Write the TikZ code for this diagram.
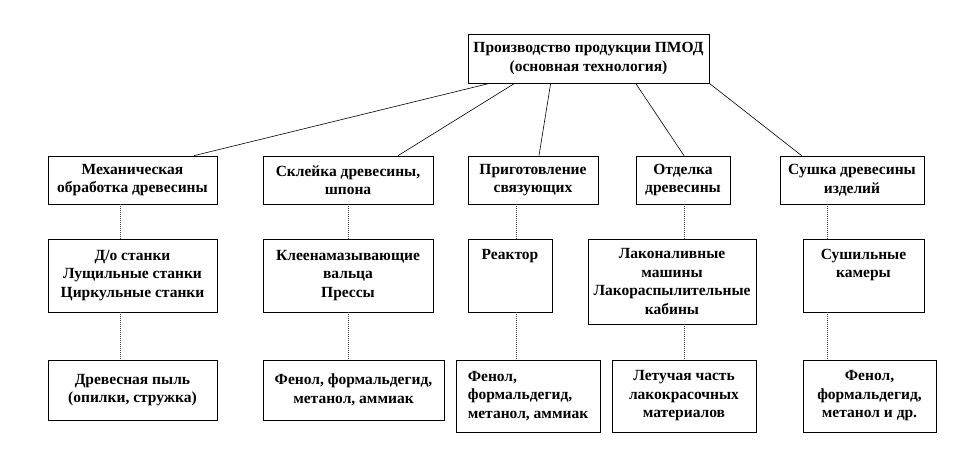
\documentclass[tikz,border=0pt]{standalone}
\usepackage{fontspec}
\setmainfont{Liberation Serif}

\begin{document}
\begin{tikzpicture}[x=1pt,y=-1pt,
  box/.style={rectangle,draw,line width=0.7pt,fill=white,align=center,inner sep=2pt,
    font=\fontsize{15.5}{18.5}\selectfont\bfseries},
  top text/.style={label={[align=center,anchor=north,yshift=-7pt,font=\fontsize{15.5}{18.5}\selectfont\bfseries]north:#1}},
  link/.style={line width=0.6pt},
  drop/.style={densely dotted,line width=1pt,black!75}]
  \useasboundingbox[fill=white] (0,0) rectangle (960,456);

  % root
  \node[box,minimum width=241pt,minimum height=49pt] (top) at (588.5,58.5)
    {Производство продукции ПМОД\\(основная технология)};

  % processes
  \node[box,minimum width=169pt,minimum height=48pt] (p1) at (132.5,180) {Механическая\\обработка древесины};
  \node[box,minimum width=170pt,minimum height=48pt] (p2) at (348,180) {Склейка древесины,\\шпона};
  \node[box,minimum width=130pt,minimum height=48pt] (p3) at (533,180) {Приготовление\\связующих};
  \node[box,minimum width=94pt,minimum height=48pt] (p4) at (683,180) {Отделка\\древесины};
  \node[box,minimum width=144pt,minimum height=48pt] (p5) at (852,180) {Сушка древесины\\изделий};

  % equipment
  \node[box,minimum width=169pt,minimum height=73pt] (e1) at (132.5,275.5) {Д/о станки\\Лущильные станки\\Циркульные станки};
  \node[box,minimum width=170pt,minimum height=73pt] (e2) at (348,275.5) {Клеенамазывающие\\вальца\\Прессы};
  \node[box,minimum width=84pt,minimum height=73pt,top text={Реактор}] (e3) at (510,275.5) {};
  \node[box,minimum width=168pt,minimum height=85pt] (e4) at (672,281.5) {Лаконаливные\\машины\\Лакораспылительные\\кабины};
  \node[box,minimum width=121pt,minimum height=73pt,top text={Сушильные\\камеры}] (e5) at (863.5,275.5) {};

  % emissions
  \node[box,minimum width=169pt,minimum height=60pt] (s1) at (132.5,390) {Древесная пыль\\(опилки, стружка)};
  \node[box,minimum width=181pt,minimum height=60pt] (s2) at (353.5,390) {Фенол, формальдегид,\\метанол, аммиак};
  \node[box,minimum width=144pt,minimum height=72pt,align=left] (s3) at (528,396) {Фенол,\\формальдегид,\\метанол, аммиак};
  \node[box,minimum width=144pt,minimum height=72pt] (s4) at (684,396) {Летучая часть\\лакокрасочных\\материалов};
  \node[box,minimum width=133pt,minimum height=72pt] (s5) at (869.5,396) {Фенол,\\формальдегид,\\метанол и др.};

  \coordinate (v1) at (120,0);
  \coordinate (v2) at (348,0);
  \coordinate (v3) at (516,0);
  \coordinate (v4) at (684,0);
  \coordinate (v5) at (827,0);

  \path[link]
    ([xshift=22pt]top.south west) edge ([xshift=61.5pt]p1.north)
    ([xshift=47pt]top.south west) edge ([xshift=50pt]p2.north)
    ([xshift=83pt]top.south west) edge ([xshift=6pt]p3.north)
    ([xshift=168pt]top.south west) edge ([xshift=1pt]p4.north)
    (top.south east) edge ([xshift=22pt]p5.north west);

  \path[drop]
    (p1.south -| v1) edge (e1.north -| v1)
    (p2.south -| v2) edge (e2.north -| v2)
    (p3.south -| v3) edge (e3.north -| v3)
    (p4.south -| v4) edge (e4.north -| v4)
    (p5.south -| v5) edge (e5.north -| v5)
    (e1.south -| v1) edge (s1.north -| v1)
    (e2.south -| v2) edge (s2.north -| v2)
    (e3.south -| v3) edge (s3.north -| v3)
    (e4.south -| v4) edge (s4.north -| v4)
    (e5.south -| v5) edge (s5.north -| v5);
\end{tikzpicture}
\end{document}
